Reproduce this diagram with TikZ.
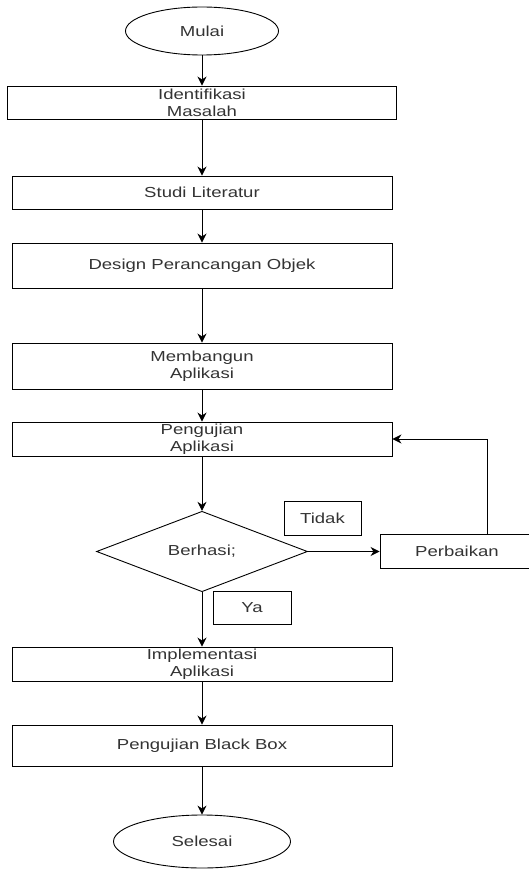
\documentclass[tikz,border=0pt]{standalone}
\usepackage{fontspec}
\setmainfont{Liberation Sans}[FakeStretch=1.28]
\usepackage{tikz}
\usetikzlibrary{arrows.meta, shapes.geometric}

\begin{document}
\begin{tikzpicture}[
        x=1pt, y=-1pt,
        every node/.style={font=\fontsize{14.5}{16.7}\selectfont, text=black!80, line width=0.9pt},
        proc/.style={rectangle, draw, align=center, minimum width=380pt, inner sep=0pt},
        term/.style={ellipse, draw, inner sep=0pt},
        label/.style={rectangle, draw, minimum width=77pt, minimum height=34pt, inner sep=0pt},
        arrow/.style={-{Stealth[length=9pt, width=9pt]}, line width=0.9pt}
    ]
    \useasboundingbox (0,0) rectangle (529,869);
    \clip (0,0) rectangle (529,869);

    % Langkah
    \node (mulai) [term, minimum width=153pt, minimum height=48pt] at (202,31) {Mulai};
    \node (identifikasi) [proc, minimum width=389pt, minimum height=33pt] at (202,102.5) {Identifikasi\\Masalah};
    \node (studi) [proc, minimum height=33pt] at (202,192.5) {Studi Literatur};
    \node (design) [proc, minimum height=45pt] at (202,265.5) {Design Perancangan Objek};
    \node (membangun) [proc, minimum height=46pt] at (202,366) {Membangun\\Aplikasi};
    \node (pengujian) [proc, minimum height=34pt] at (202,439) {Pengujian\\Aplikasi};
    \node (berhasil) [diamond, draw, minimum width=211pt, minimum height=77pt, inner sep=0pt] at (202,551.5) {Berhasi;};
    \node (tidak) [label] at (322.5,518) {Tidak};
    \node (perbaikan) [rectangle, draw, minimum width=154pt, minimum height=34pt, inner sep=0pt] at (457,551.5) {Perbaikan};
    \node (ya) [label, minimum width=78pt, minimum height=33pt] at (252,607.5) {Ya};
    \node (implementasi) [proc, minimum height=34pt] at (202,664) {Implementasi\\Aplikasi};
    \node (blackbox) [proc, minimum height=41pt] at (202,745.5) {Pengujian Black Box};
    \node (selesai) [term, minimum width=177pt, minimum height=53pt] at (202,841.5) {Selesai};

    % Alur
    \draw [arrow] (mulai) -- (identifikasi);
    \draw [arrow] (identifikasi) -- (studi);
    \draw [arrow] (studi) -- (design);
    \draw [arrow] (design) -- (membangun);
    \draw [arrow] (membangun) -- (pengujian);
    \draw [arrow] (pengujian) -- (berhasil);
    \draw [arrow] (berhasil.east) -- (perbaikan.west);
    \draw [arrow] ([xshift=30.7pt]perbaikan.north) |- (pengujian.east);
    \draw [arrow] (berhasil.south) -- (implementasi.north);
    \draw [arrow] (implementasi) -- (blackbox);
    \draw [arrow] (blackbox) -- (selesai);

\end{tikzpicture}
\end{document}
